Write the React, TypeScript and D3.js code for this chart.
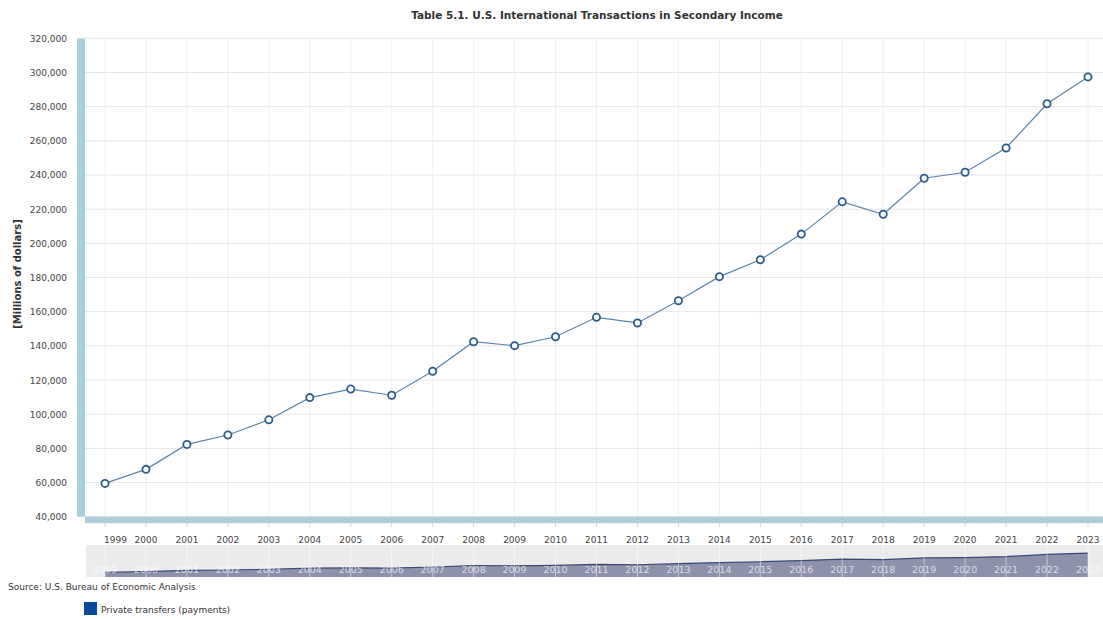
import React from 'react';
import * as d3 from 'd3';

const years = [1999, 2000, 2001, 2002, 2003, 2004, 2005, 2006, 2007, 2008, 2009, 2010, 2011,
  2012, 2013, 2014, 2015, 2016, 2017, 2018, 2019, 2020, 2021, 2022, 2023];
const payments = [59500, 67700, 82300, 87800, 96700, 109700, 114700, 111100, 125100, 142400,
  140100, 145300, 156700, 153400, 166400, 180500, 190400, 205400, 224300, 217000, 238100,
  241600, 255800, 281700, 297400];
const yTicks = [40000, 60000, 80000, 100000, 120000, 140000, 160000, 180000, 200000, 220000,
  240000, 260000, 280000, 300000, 320000];

const W = 1103;
const H = 619;
const font = '"DejaVu Sans", Verdana, sans-serif';

export default function App() {
  const plot = { left: 85, right: 1103, top: 38.3, bottom: 516.7 };
  const nav = { top: 545, bottom: 577 };

  const x = d3.scaleLinear().domain([1999, 2023]).range([105, 1088]);
  const y = d3.scaleLinear().domain([40000, 320000]).range([plot.bottom, plot.top]);
  const yNav = d3.scaleLinear().domain([0, 400000]).range([nav.bottom, nav.top]);

  const pts = years.map((yr, i) => ({ yr, v: payments[i] }));
  const line = d3.line<{ yr: number; v: number }>().x(d => x(d.yr)).y(d => y(d.v));
  const navLine = d3.line<{ yr: number; v: number }>().x(d => x(d.yr)).y(d => yNav(d.v));
  const navArea = d3.area<{ yr: number; v: number }>()
    .x(d => x(d.yr)).y0(nav.bottom).y1(d => yNav(d.v));
  const fmt = d3.format(',');

  return (
    <svg width={W} height={H} style={{ position: 'absolute', left: 0, top: 0 }} fontFamily={font}>
      <rect width={W} height={H} fill="#fff" />
      {/* title */}
      <text x={597} y={19} textAnchor="middle" fontSize={10.5} fontWeight="bold" fill="#333">
        Table 5.1. U.S. International Transactions in Secondary Income
      </text>

      {/* grid */}
      {years.map(yr => (
        <line key={'vg' + yr} x1={x(yr)} x2={x(yr)} y1={plot.top} y2={plot.bottom}
          stroke="#f0f0f0" strokeWidth={1} />
      ))}
      {yTicks.map(t => (
        <g key={'hg' + t}>
          <line x1={plot.left} x2={plot.right} y1={y(t)} y2={y(t)} stroke="#e6e6e6" strokeWidth={1} />
          <text x={67} y={y(t) + 3.5} textAnchor="end" fontSize={9} fill="#444">{fmt(t)}</text>
        </g>
      ))}

      {/* axis bars */}
      <rect x={77} y={plot.top} width={8} height={plot.bottom - plot.top} fill="#aacfdb" />
      <rect x={plot.left} y={plot.bottom} width={plot.right - plot.left} height={6.5} fill="#aacfdb" />
      {years.map(yr => (
        <line key={'tk' + yr} x1={x(yr)} x2={x(yr)} y1={523} y2={527} stroke="#ccd6eb" />
      ))}

      {/* y title */}
      <text transform={`translate(21,274) rotate(-90)`} textAnchor="middle" fontSize={10}
        fontWeight="bold" fill="#333">[Millions of dollars]</text>

      {/* x labels */}
      {years.map((yr, i) => (
        <text key={'xl' + yr} x={i === 0 ? x(yr) - 1 : x(yr)} y={543}
          textAnchor={i === 0 ? 'start' : 'middle'} fontSize={9} fill="#444">{yr}</text>
      ))}

      {/* series */}
      <path d={line(pts) || ''} fill="none" stroke="#5b85ad" strokeWidth={1.2} />
      {pts.map(p => (
        <circle key={'pt' + p.yr} cx={x(p.yr)} cy={y(p.v)} r={3.6} fill="#fff"
          stroke="#2c5c8c" strokeWidth={1.8} />
      ))}

      {/* navigator */}
      <rect x={86} y={nav.top} width={W - 86} height={nav.bottom - nav.top} fill="#ebebeb" />
      <path d={navArea(pts) || ''} fill="#8d92aa" />
      <path d={navLine(pts) || ''} fill="none" stroke="#3a4878" strokeWidth={1.2} />
      {years.map(yr => (
        <line key={'ng' + yr} x1={x(yr)} x2={x(yr)} y1={nav.top} y2={nav.bottom}
          stroke="#ffffff" strokeOpacity={0.5} />
      ))}
      {years.map(yr => (
        <text key={'nl' + yr} x={x(yr)} y={573} textAnchor="middle" fontSize={9.5}
          fill="#ffffff" fillOpacity={0.7}>{yr}</text>
      ))}

      {/* source & legend */}
      <text x={8} y={590} fontSize={9} fill="#333">Source: U.S. Bureau of Economic Analysis</text>
      <rect x={84} y={602} width={13} height={13} fill="#0a4a9c" />
      <text x={101} y={612.5} fontSize={9} fill="#333">Private transfers (payments)</text>
    </svg>
  );
}
